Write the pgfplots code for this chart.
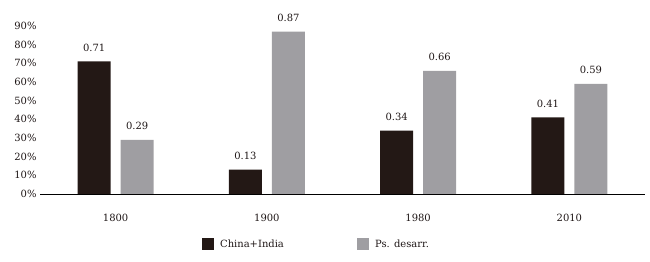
\documentclass[border=0pt]{standalone}
\usepackage{fontspec}
\setmainfont{DejaVu Serif}
\usepackage{pgfplots}
\pgfplotsset{compat=1.18}
\definecolor{darkbar}{HTML}{231815}
\definecolor{graybar}{HTML}{9F9EA2}
\definecolor{labcol}{HTML}{1E1616}
\begin{document}
\fontsize{10}{12}\selectfont
\begin{tikzpicture}
\useasboundingbox (-40bp,-68bp) rectangle (610bp,194bp);
\begin{axis}[
  at={(0,0)}, anchor=south west,
  scale only axis, width=605bp, height=168bp,
  xmin=-0.5, xmax=3.5, ymin=0, ymax=0.9,
  ybar, bar width=33bp,
  axis lines*=left,
  y axis line style={draw=none},
  x axis line style={black, line width=0.9bp},
  tick style={draw=none},
  /pgf/number format/assume math mode=true,
  ytick={0,0.1,0.2,0.3,0.4,0.5,0.6,0.7,0.8,0.9},
  yticklabels={0\%,10\%,20\%,30\%,40\%,50\%,60\%,70\%,80\%,90\%},
  xtick={0,1,2,3},
  xticklabels={1800,1900,1980,2010},
  xticklabel style={yshift=-12.5bp},
  ticklabel style={text=labcol, font=\fontsize{10}{12}\selectfont},
  nodes near coords={\pgfmathprintnumber[fixed,fixed zerofill,precision=2,assume math mode=true]{\pgfplotspointmeta}},
  every node near coord/.append style={anchor=south, inner sep=0pt, yshift=10bp, text=labcol, font=\fontsize{10}{12}\selectfont},
  legend image code/.code={\fill[#1] (0bp,-6bp) rectangle (12bp,6bp);},
  legend style={at={(axis description cs:0.268,-0.298)}, anchor=west, draw=none, fill=none,
    inner sep=0pt, outer sep=0pt, legend columns=2,
    /tikz/every odd column/.append style={column sep=6bp},
    nodes={inner sep=0pt, text=labcol, font=\fontsize{10}{12}\selectfont}},
]
\addplot[fill=darkbar, draw=none, bar shift=-21.5bp] coordinates {(0,0.71) (1,0.13) (2,0.34) (3,0.41)};
\addlegendentry{\makebox[137bp][l]{China+India}}
\addplot[fill=graybar, draw=none, bar shift=21.5bp] coordinates {(0,0.29) (1,0.87) (2,0.66) (3,0.59)};
\addlegendentry{Ps. desarr.}
\end{axis}
\end{tikzpicture}
\end{document}
